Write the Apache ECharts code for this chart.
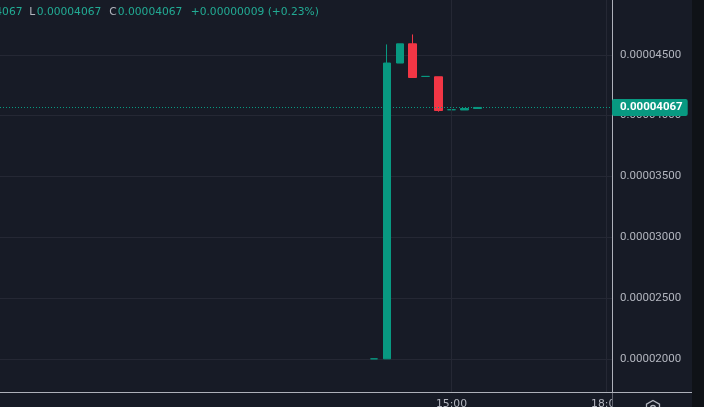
<!DOCTYPE html>
<html><head><meta charset="utf-8">
<script src="https://cdn.jsdelivr.net/npm/echarts@6/dist/echarts.min.js"></script>
<style>html,body{margin:0;padding:0;background:#171b26;}#c{width:704px;height:407px;}</style>
</head><body><div id="c"></div>
<script>
// ---- data ----
const times  = ['13:30','13:45','14:00','14:15','14:30','14:45','15:00','15:15','15:30'];
const opens  = [0.00002000,0.00002000,0.00004432,0.00004590,0.00004322,0.00004319,0.00004048,0.00004046,0.00004058];
const closes = [0.00002000,0.00004432,0.00004590,0.00004313,0.00004322,0.00004042,0.00004048,0.00004058,0.00004067];
const lows   = [0.00002000,0.00002000,0.00004432,0.00004313,0.00004322,0.00004032,0.00004048,0.00004046,0.00004058];
const highs  = [0.00002000,0.00004585,0.00004590,0.00004667,0.00004322,0.00004319,0.00004048,0.00004058,0.00004067];
const gridTimes = ['15:00','18:00'];
const viewStart = '06:16:12', viewEnd = '18:06:12';
const yMin = 0.000015, yMax = 0.00005, yStep = 0.000005;
const headerH = '0.00004067', headerL = '0.00004067', headerC = '0.00004067', headerChg = '+0.00000009 (+0.23%)';

// ---- build ----
const BG = '#171b26', GRID = '#252834', AXIS = '#aeb1ba', TXT = '#b2b5be', UP = '#089981', DOWN = '#f23645';
function ts(s){ const p = s.split(':').map(Number); return new Date(2024,0,15,p[0],p[1],p[2]||0).getTime(); }
const firstT = ts(times[0]);
const candles = times.map((t,i)=>[ts(t), opens[i], closes[i], lows[i], highs[i]]);
const last = closes[closes.length-1];
const pad = n => (n<10?'0':'')+n;

const chart = echarts.init(document.getElementById('c'), null, {renderer:'canvas'});
chart.setOption({
  animation: false,
  backgroundColor: BG,
  grid: {left: 0, right: 92, top: -6.05, bottom: -12.65, containLabel: false, outerBoundsMode: 'none'},
  xAxis: {
    type: 'time', min: ts(viewStart), max: ts(viewEnd), position: 'bottom', offset: -27.65,
    minInterval: 3600000, maxInterval: 3600000, z: 4,
    axisLine: {show: true, lineStyle: {color: AXIS, width: 1}},
    axisTick: {show: false}, splitLine: {show: false},
    axisLabel: {
      margin: 7, color: TXT, fontFamily: 'DejaVu Sans', fontSize: 10.8,
      formatter: function(v){ const d = new Date(v);
        if (d.getMinutes() || d.getSeconds() || d.getHours()%3 || v < firstT) return '';
        return pad(d.getHours()) + ':00'; }
    }
  },
  yAxis: {
    type: 'value', position: 'right', min: yMin, max: yMax, interval: yStep, z: 0,
    axisLine: {show: true, lineStyle: {color: AXIS, width: 1}},
    axisTick: {show: false},
    splitLine: {show: true, lineStyle: {color: GRID, width: 1}},
    axisLabel: {margin: 8, color: TXT, fontFamily: 'Roboto', fontSize: 11.5,
      showMinLabel: false, showMaxLabel: false, formatter: v => v.toFixed(8)}
  },
  series: [{
    type: 'candlestick', data: candles, barWidth: 8, z: 2,
    itemStyle: {color: UP, color0: DOWN, borderColor: UP, borderColor0: DOWN, borderColorDoji: UP, borderWidth: 1},
    markLine: {
      silent: true, symbol: ['none','none'], z: 2.5, animation: false, precision: 10,
      data: [
        ...gridTimes.map(t => ({xAxis: ts(t), lineStyle: {color: GRID, width: 1, type: 'solid'}, label: {show: false}})),
        {yAxis: last, lineStyle: {color: UP, width: 1, type: [1,2], opacity: 1},
         label: {show: true, position: 'end', distance: 0, formatter: () => last.toFixed(8),
           backgroundColor: UP, color: '#ffffff', fontFamily: 'Roboto', fontWeight: 'bold', fontSize: 11.5,
           padding: [3, 5, 2, 8], borderRadius: 2}}
      ]
    }
  }],
  graphic: [
    {type: 'rect', z: 3, silent: true, shape: {x: 0, y: 392.5, width: 611.5, height: 15}, style: {fill: BG}},
    {type: 'rect', z: 5, silent: true, shape: {x: 612.5, y: 392.5, width: 79.5, height: 15}, style: {fill: BG}},
    {type: 'line', z: 6, silent: true, shape: {x1: 612, y1: 392.5, x2: 692, y2: 392.5}, style: {stroke: AXIS, lineWidth: 1}},
    {type: 'polygon', z: 6, silent: true, shape: {points: [[653,400.5],[659.5,404.2],[659.5,411.8],[653,415.5],[646.5,411.8],[646.5,404.2]]}, style: {fill: 'none', stroke: TXT, lineWidth: 1.3}},
    {type: 'circle', z: 6, silent: true, shape: {cx: 653, cy: 408, r: 2.5}, style: {fill: 'none', stroke: TXT, lineWidth: 1.3}},
    {type: 'rect', z: 7, silent: true, shape: {x: 692, y: 0, width: 12, height: 407}, style: {fill: '#0f1217'}},
    {type: 'text', z: 7, silent: true, x: 22.5, y: 12.5, style: {text: headerH, fill: '#22ab94', font: '10.7px "DejaVu Sans"', align: 'right', verticalAlign: 'middle'}},
    {type: 'text', z: 7, silent: true, x: 29.3, y: 12.5, style: {text: 'L', fill: TXT, font: '10.7px "DejaVu Sans"', align: 'left', verticalAlign: 'middle'}},
    {type: 'text', z: 7, silent: true, x: 36.7, y: 12.5, style: {text: headerL, fill: '#22ab94', font: '10.7px "DejaVu Sans"', align: 'left', verticalAlign: 'middle'}},
    {type: 'text', z: 7, silent: true, x: 109.3, y: 12.5, style: {text: 'C', fill: TXT, font: '10.7px "DejaVu Sans"', align: 'left', verticalAlign: 'middle'}},
    {type: 'text', z: 7, silent: true, x: 117.8, y: 12.5, style: {text: headerC, fill: '#22ab94', font: '10.7px "DejaVu Sans"', align: 'left', verticalAlign: 'middle'}},
    {type: 'text', z: 7, silent: true, x: 190.7, y: 12.5, style: {text: headerChg, fill: '#22ab94', font: '10.7px "DejaVu Sans"', align: 'left', verticalAlign: 'middle'}}
  ]
});
</script></body></html>
